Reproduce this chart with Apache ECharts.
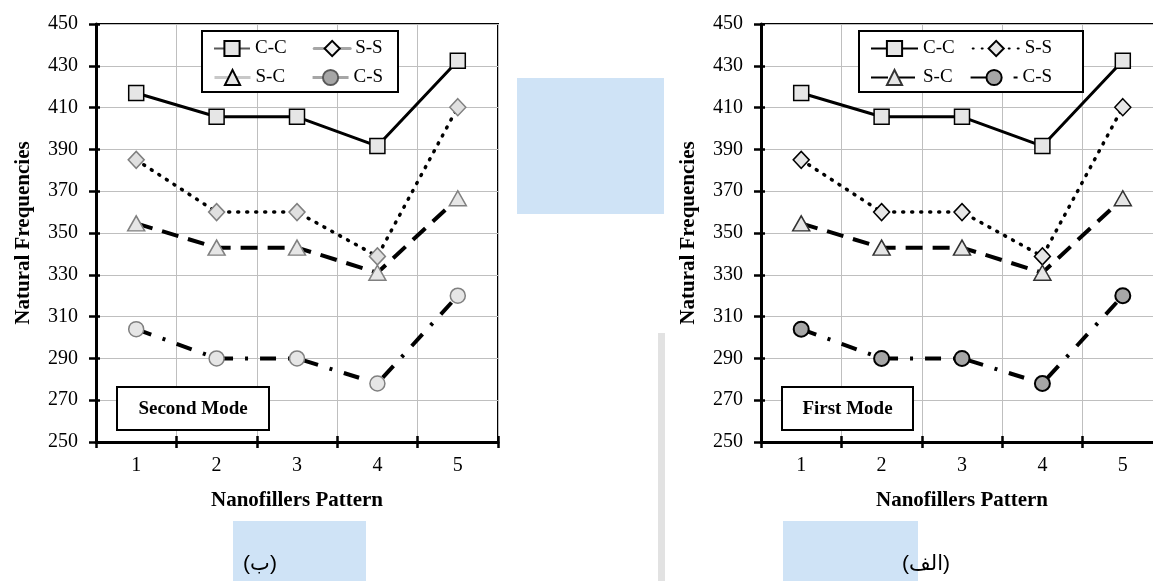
<!DOCTYPE html>
<html>
<head>
<meta charset="utf-8">
<script src="https://cdn.jsdelivr.net/npm/echarts@6/dist/echarts.min.js"></script>
<style>
  html, body { margin: 0; background: #fff; overflow: hidden; }
  #wrap { position: relative; width: 1153px; height: 581px; }
  .panel { position: absolute; left: 0; top: 0; width: 1153px; height: 581px; }
</style>
</head>
<body>
<div id="wrap">
  <div id="second" class="panel"></div>
  <div id="first" class="panel"></div>
</div>
<script>
// data (both modes plot the same values)
const patterns = ['1', '2', '3', '4', '5'];
const ccValues = [417, 405.6, 405.6, 391.6, 432.4];
const ssValues = [385, 360, 360, 338.8, 410.2];
const scValues = [354.6, 343, 343, 331, 366.6];
const csValues = [304, 290, 290, 278, 320];
const yMin = 250;
const yMax = 450;
const yStep = 20;

const SERIF = 'Liberation Serif';

// line + marker look per series, per panel
const lineLooks = {
  'C-C': { type: 'solid', width: 3, cap: 'butt' },
  'S-S': { type: [1, 8], width: 3.5, cap: 'round' },
  'S-C': { type: [17, 10], width: 4, cap: 'butt' },
  'C-S': { type: [16, 12, 3, 12], width: 4, cap: 'butt' },
};
const markerShapes = {
  'C-C': { symbol: 'rect', size: 15 },
  'S-S': { symbol: 'diamond', size: [16, 17] },
  'S-C': { symbol: 'triangle', size: [17, 15] },
  'C-S': { symbol: 'circle', size: 15 },
};

function makeSeries(name, values, marker) {
  const look = lineLooks[name];
  const shape = markerShapes[name];
  return {
    name,
    type: 'line',
    data: values,
    xAxisIndex: 0,
    yAxisIndex: 0,
    symbol: shape.symbol,
    symbolSize: shape.size,
    showAllSymbol: true,
    lineStyle: { color: '#000', width: look.width, type: look.type, cap: look.cap },
    itemStyle: { color: marker.fill, borderColor: marker.border, borderWidth: marker.bw || 1.5, opacity: 1 },
    emphasis: { disabled: true },
  };
}

function buildOption(p) {
  const gridW = 402, gridH = 418, top = 24;
  const axisFont = { fontFamily: SERIF, fontSize: 20, color: '#000' };
  const nameFont = { fontFamily: SERIF, fontSize: 21, fontWeight: 'bold', color: '#000' };
  const legendText = { fontFamily: SERIF, fontSize: 19, color: '#000' };
  const legendBase = {
    orient: 'horizontal',
    left: p.legendLeft,
    itemWidth: p.legendIconW,
    itemHeight: 19,
    itemGap: p.legendGap,
    padding: 0,
    selectedMode: false,
    textStyle: legendText,
  };
  const legendItems = p.legendItems;
  return {
    animation: false,
    backgroundColor: 'transparent',
    grid: {
      left: p.left, top, width: gridW, height: gridH,
      outerBoundsMode: 'none',
      show: true, borderColor: '#000', borderWidth: 2, backgroundColor: 'transparent',
    },
    xAxis: [
      {
        type: 'category', data: patterns, boundaryGap: true, position: 'bottom',
        name: 'Nanofillers Pattern', nameLocation: 'middle', nameGap: 48, nameTextStyle: nameFont,
        axisLine: { lineStyle: { color: '#000', width: 3 } },
        axisTick: { show: true, length: 6, lineStyle: { color: '#000', width: 2.5 } },
        axisLabel: { ...axisFont, margin: 14 },
        splitLine: { show: true, lineStyle: { color: '#bfbfbf', width: 1 } },
      },
      {
        type: 'category', data: patterns, boundaryGap: true, position: 'bottom',
        axisLine: { show: false },
        axisTick: { show: true, inside: true, length: 6, lineStyle: { color: '#000', width: 2.5 } },
        axisLabel: { show: false },
        splitLine: { show: false },
      },
    ],
    yAxis: [
      {
        type: 'value', min: yMin, max: yMax, interval: yStep, position: 'left',
        name: 'Natural Frequencies', nameLocation: 'middle', nameGap: 62, nameTextStyle: nameFont,
        axisLine: { show: true, lineStyle: { color: '#000', width: 3 } },
        axisTick: { show: true, length: 7, lineStyle: { color: '#000', width: 2.5 } },
        axisLabel: { ...axisFont, margin: 18 },
        splitLine: { show: true, lineStyle: { color: '#bfbfbf', width: 1 } },
      },
      {
        type: 'value', min: yMin, max: yMax, interval: yStep, position: 'left',
        axisLine: { show: false },
        axisTick: { show: true, inside: true, length: 4, lineStyle: { color: '#000', width: 2.5 } },
        axisLabel: { show: false },
        splitLine: { show: false },
      },
    ],
    legend: [
      { ...legendBase, top: 39, data: legendItems.slice(0, 2) },
      { ...legendBase, top: 68, data: legendItems.slice(2, 4) },
    ],
    graphic: [
      ...(p.extraGraphics || []),
      {
        type: 'rect', z: 3,
        shape: { x: p.legendBox[0], y: 31, width: p.legendBox[1], height: 61 },
        style: { fill: '#fff', stroke: '#000', lineWidth: 2 },
      },
      {
        type: 'rect', z: 3,
        shape: { x: p.modeBox[0], y: 387, width: p.modeBox[1], height: 43 },
        style: { fill: '#fff', stroke: '#000', lineWidth: 2 },
      },
      {
        type: 'text', z: 4,
        x: p.modeBox[0] + p.modeBox[1] / 2, y: 409,
        style: {
          text: p.modeText, font: 'bold 19px "Liberation Serif"', fill: '#000',
          align: 'center', verticalAlign: 'middle',
        },
      },
      {
        type: 'text', z: 4,
        x: p.caption[1], y: 564,
        style: {
          text: p.caption[0], font: '21px "Liberation Sans", "DejaVu Sans"', fill: '#000',
          align: 'center', verticalAlign: 'middle',
        },
      },
    ],
    series: [
      makeSeries('C-C', ccValues, p.markers['C-C']),
      makeSeries('S-S', ssValues, p.markers['S-S']),
      makeSeries('S-C', scValues, p.markers['S-C']),
      makeSeries('C-S', csValues, p.markers['C-S']),
    ],
  };
}

// faint watermark blocks behind the figures
const watermark = [
  { type: 'rect', z: -10, shape: { x: 517, y: 78, width: 147, height: 136 }, style: { fill: '#cfe3f6' } },
  { type: 'rect', z: -10, shape: { x: 233, y: 521, width: 133, height: 60 }, style: { fill: '#cfe3f6' } },
  { type: 'rect', z: -10, shape: { x: 783, y: 521, width: 135, height: 60 }, style: { fill: '#cfe3f6' } },
  { type: 'rect', z: -10, shape: { x: 658, y: 333, width: 7, height: 248 }, style: { fill: '#e2e2e2' } },
];

const secondChart = echarts.init(document.getElementById('second'));
secondChart.setOption(buildOption({
  left: 96,
  legendLeft: 213,
  legendIconW: 36,
  legendGap: 26,
  legendBox: [202, 196],
  modeBox: [117, 152],
  modeText: 'Second Mode',
  caption: ['(ب)', 260],
  extraGraphics: watermark,
  markers: {
    'C-C': { fill: '#e6e6e6', border: '#000' },
    'S-S': { fill: '#e0e0e0', border: '#808080' },
    'S-C': { fill: '#e6e6e6', border: '#808080' },
    'C-S': { fill: '#e6e6e6', border: '#808080' },
  },
  legendItems: [
    { name: 'C-C', lineStyle: { color: '#595959', type: 'solid' }, itemStyle: { color: '#e6e6e6', borderColor: '#000' } },
    { name: 'S-S', lineStyle: { color: '#a6a6a6', type: 'solid', width: 3 }, itemStyle: { color: '#f2f2f2', borderColor: '#000' } },
    { name: 'S-C', lineStyle: { color: '#c8c8c8', type: 'solid', width: 3 }, itemStyle: { color: '#e6e6e6', borderColor: '#000' } },
    { name: 'C-S', lineStyle: { color: '#a6a6a6', type: 'solid', width: 3 }, itemStyle: { color: '#a6a6a6', borderColor: '#595959' } },
  ],
}));

const firstChart = echarts.init(document.getElementById('first'));
firstChart.setOption(buildOption({
  left: 761,
  legendLeft: 870,
  legendIconW: 47,
  legendGap: 17,
  legendBox: [859, 224],
  modeBox: [782, 131],
  modeText: 'First Mode',
  caption: ['(الف)', 926],
  markers: {
    'C-C': { fill: '#e6e6e6', border: '#000' },
    'S-S': { fill: '#e6e6e6', border: '#000' },
    'S-C': { fill: '#e6e6e6', border: '#333' },
    'C-S': { fill: '#a6a6a6', border: '#000', bw: 2 },
  },
  legendItems: ['C-C', 'S-S', 'S-C', 'C-S'],
}));
</script>
</body>
</html>
